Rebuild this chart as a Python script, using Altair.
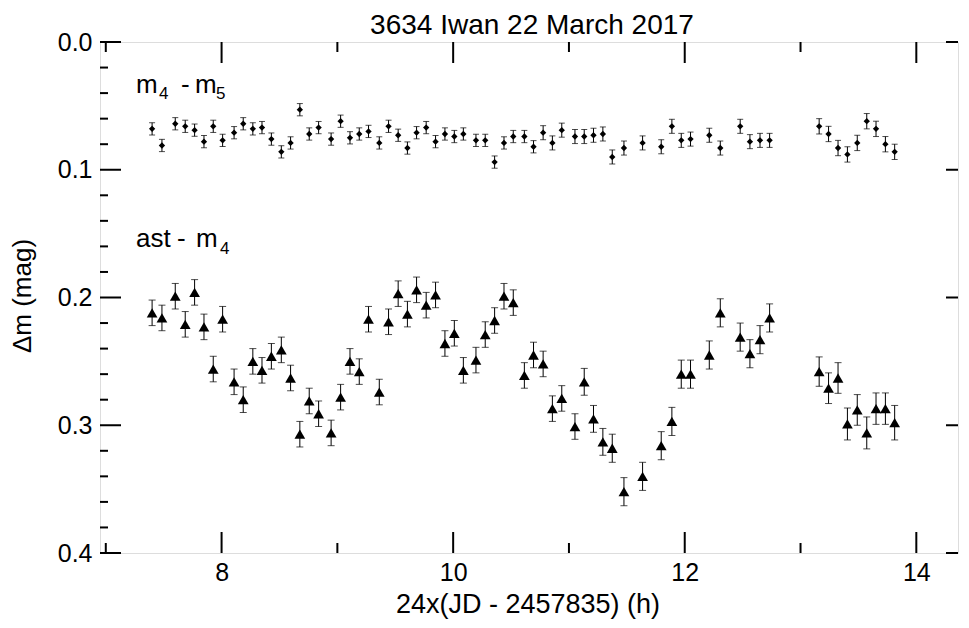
import altair as alt
import pandas as pd

# ---- data ----
time_h = [7.40, 7.485, 7.60, 7.686, 7.767, 7.848, 7.928, 8.009, 8.108, 8.187,
          8.27, 8.349, 8.43, 8.516, 8.596, 8.676, 8.757, 8.838, 8.946, 9.028,
          9.109, 9.189, 9.269, 9.362, 9.442, 9.525, 9.605, 9.684, 9.767, 9.848,
          9.929, 10.01, 10.088, 10.197, 10.277, 10.358, 10.439, 10.519, 10.615, 10.694,
          10.777, 10.857, 10.938, 11.052, 11.132, 11.212, 11.293, 11.374, 11.475, 11.636,
          11.797, 11.889, 11.970, 12.050, 12.212, 12.307, 12.479, 12.563, 12.65, 12.733,
          13.161, 13.242, 13.324, 13.405, 13.490, 13.572, 13.652, 13.733, 13.813]

ast_m4 = [0.212, 0.216, 0.199, 0.221, 0.196, 0.223, 0.256, 0.217, 0.266, 0.280,
          0.250, 0.257, 0.246, 0.241, 0.263, 0.307, 0.281, 0.291, 0.306, 0.278,
          0.250, 0.258, 0.217, 0.274, 0.219, 0.197, 0.213, 0.194, 0.206, 0.198,
          0.236, 0.228, 0.257, 0.249, 0.229, 0.218, 0.199, 0.204, 0.261, 0.245,
          0.252, 0.287, 0.279, 0.301, 0.266, 0.295, 0.313, 0.318, 0.352, 0.340,
          0.316, 0.297, 0.260, 0.260, 0.245, 0.212, 0.231, 0.244, 0.233, 0.216,
          0.258, 0.271, 0.263, 0.299, 0.288, 0.306, 0.287, 0.287, 0.298]

ast_err = [0.010] * 44 + [0.0105] * 3 + [0.011] * 13 + [0.0115, 0.012, 0.012, 0.0125,
                                                         0.012, 0.0125, 0.0123, 0.0123, 0.0135]

m4_m5 = [0.068, 0.081, 0.064, 0.066, 0.069, 0.078, 0.066, 0.077, 0.071, 0.064,
         0.068, 0.067, 0.076, 0.086, 0.079, 0.053, 0.072, 0.067, 0.076, 0.062,
         0.075, 0.072, 0.070, 0.079, 0.066, 0.073, 0.083, 0.071, 0.067, 0.078,
         0.072, 0.074, 0.072, 0.077, 0.077, 0.094, 0.079, 0.074, 0.074, 0.082,
         0.071, 0.079, 0.069, 0.074, 0.074, 0.073, 0.072, 0.090, 0.083, 0.079,
         0.082, 0.066, 0.077, 0.076, 0.073, 0.083, 0.066, 0.078, 0.077, 0.077,
         0.066, 0.072, 0.083, 0.088, 0.079, 0.062, 0.068, 0.080, 0.086]

m45_err = [0.0048] * 40 + [0.0055] * 20 + [0.006] * 9

x_major = [8, 10, 12, 14]
x_minor = [7, 9, 11, 13]
y_major = [0.0, 0.1, 0.2, 0.3, 0.4]
y_minor = [0.02, 0.04, 0.06, 0.08, 0.12, 0.14, 0.16, 0.18, 0.22, 0.24, 0.26, 0.28,
           0.32, 0.34, 0.36, 0.38]

title_text = "3634 Iwan 22 March 2017"
x_title = "24x(JD - 2457835) (h)"
y_title = "\u0394m (mag)"

FONT = "Liberation Sans"
W, H = 858, 511

xs = alt.Scale(domain=[6.95, 14.36], nice=False, zero=False)
ys = alt.Scale(domain=[0.0, 0.4], reverse=True, nice=False, zero=False)

XAX = alt.Axis(values=x_major, format="d", ticks=False, domain=False, grid=False,
               labelFontSize=25, labelFont=FONT, labelColor="black", labelPadding=7,
               title="")
YAX = alt.Axis(values=y_major, format=".1f", ticks=False, domain=False, grid=False,
               labelFontSize=25, labelFont=FONT, labelColor="black", labelPadding=8,
               title="")

ast_df = pd.DataFrame({"t": time_h, "v": ast_m4, "e": ast_err})
ast_df["lo"] = ast_df["v"] - ast_df["e"]
ast_df["hi"] = ast_df["v"] + ast_df["e"]
m_df = pd.DataFrame({"t": time_h, "v": m4_m5, "e": m45_err})
m_df["lo"] = m_df["v"] - m_df["e"]
m_df["hi"] = m_df["v"] + m_df["e"]


def X(field):
    return alt.X(field, scale=xs, axis=XAX)


def Y(field):
    return alt.Y(field, scale=ys, axis=YAX)


def series(df, shape, size, cap):
    bar = alt.Chart(df).mark_rule(color="black", strokeWidth=1).encode(
        x=X("t:Q"), y=Y("lo:Q"), y2="hi:Q")
    lo = alt.Chart(df).mark_tick(orient="horizontal", color="black", size=cap, thickness=1).encode(
        x=X("t:Q"), y=Y("lo:Q"))
    hi = alt.Chart(df).mark_tick(orient="horizontal", color="black", size=cap, thickness=1).encode(
        x=X("t:Q"), y=Y("hi:Q"))
    pts = alt.Chart(df).mark_point(shape=shape, filled=True, size=size,
                                   color="black", opacity=1).encode(x=X("t:Q"), y=Y("v:Q"))
    return [bar, lo, hi, pts]


# inward ticks
def xticks(vals, y0, y1):
    return alt.Chart(pd.DataFrame({"t": vals})).mark_rule(color="black", strokeWidth=2).encode(
        x=X("t:Q"), y=alt.value(y0), y2=alt.value(y1))


def yticks(vals, x0, x1):
    return alt.Chart(pd.DataFrame({"v": vals})).mark_rule(color="black", strokeWidth=2).encode(
        y=Y("v:Q"), x=alt.value(x0), x2=alt.value(x1))


tick_layers = [
    xticks(x_major, H, H - 21), xticks(x_minor, H, H - 10),
    xticks(x_major, 0, 21), xticks(x_minor, 0, 10),
    yticks(y_major, 0, 21), yticks(y_minor, 0, 8),
    yticks(y_major, W, W - 12),
]


def txt(s, x, y, size, align="left", angle=0, baseline="alphabetic"):
    return alt.Chart(pd.DataFrame({"s": [s]})).mark_text(
        font=FONT, fontSize=size, align=align, baseline=baseline, angle=angle,
        color="black").encode(text="s:N", x=alt.value(x), y=alt.value(y))


labels = [
    # series labels (main text + subscripts)
    txt("m", 36, 51, 26), txt("4", 59, 57, 17), txt("-", 81, 51, 26),
    txt("m", 95, 51, 26), txt("5", 116, 57, 17),
    txt("ast", 36, 205, 26), txt("-", 77, 205, 26), txt("m", 96, 205, 26),
    txt("4", 120, 212, 17),
    # titles
    txt(title_text, 432, -8, 28, align="center"),
    txt(x_title, 428, 571, 27, align="center"),
    txt(y_title, -77, 254, 26, align="center", angle=270, baseline="middle"),
]

chart = alt.layer(
    *tick_layers,
    *series(m_df, "diamond", 40, 6),
    *series(ast_df, "triangle-up", 115, 7),
    *labels,
).properties(
    width=W, height=H,
    autosize=alt.AutoSizeParams(type="none"),
    padding={"left": 92, "top": 34, "right": 3, "bottom": 67},
).configure_view(stroke="black", strokeWidth=2).configure(background="white")

chart.save("out.html", embed_options={"renderer": "svg", "actions": False})
